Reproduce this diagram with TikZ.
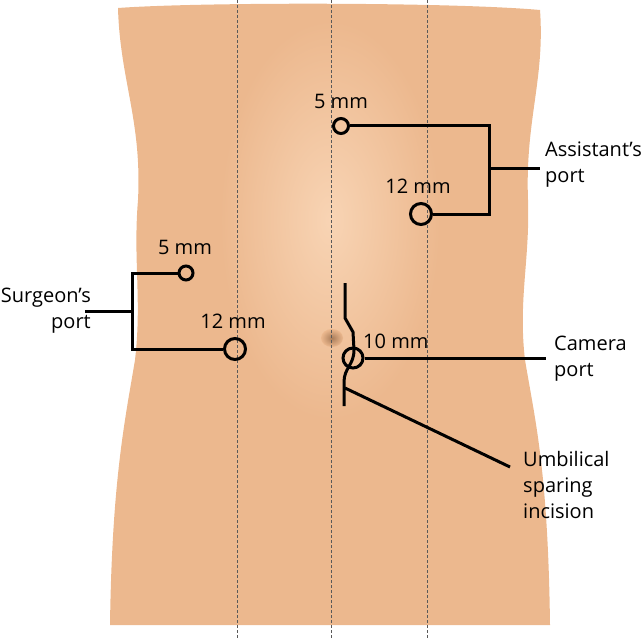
\documentclass[tikz,border=0pt]{standalone}
\usepackage{fontspec}
\setmainfont{Open Sans}
\definecolor{skin}{RGB}{236,184,142}
\definecolor{skinlight}{RGB}{248,212,180}
\definecolor{navel}{RGB}{170,125,90}
\tikzset{
  guide/.style={densely dashed, gray!70!black, line width=0.6pt},
  port/.style={circle, draw=black, line width=3pt, inner sep=0pt},
  lead/.style={line width=3pt, black},
  lbl/.style={font=\fontsize{20}{26}\selectfont, inner sep=0pt}
}
\begin{document}
\begin{tikzpicture}[x=1pt,y=-1pt]
  \useasboundingbox (0,0) rectangle (644,639);
  % torso
  \fill[skin] (118,8) .. controls (200,2) and (450,2) .. (540,10)
    .. controls (545,80) and (525,120) .. (528,200)
    .. controls (530,260) and (518,300) .. (525,360)
    .. controls (535,420) and (548,470) .. (550,625)
    -- (110,625)
    .. controls (112,480) and (125,420) .. (135,360)
    .. controls (142,300) and (133,260) .. (138,200)
    .. controls (142,120) and (120,80) .. (118,8) -- cycle;
  \shade[inner color=skinlight, outer color=skin] (330,220) ellipse (110 and 200);
  \shade[inner color=navel, outer color=skin] (332,338) ellipse (11 and 9);
  % guide lines
  \foreach \gx in {237,331,427}
    \draw[guide] (\gx,0) -- (\gx,639);
  % ports
  \node[port, minimum size=15pt] (a5) at (341,126) {};
  \node[port, minimum size=21pt] (a12) at (421,214) {};
  \node[port, minimum size=14pt] (s5) at (186,273) {};
  \node[port, minimum size=21pt] (s12) at (235,349) {};
  \node[port, minimum size=20pt] (c10) at (353,358) {};
  % labels
  \node[lbl, anchor=south] (a5t) at (a5.north) [yshift=8pt] {5 mm};
  \node[lbl, anchor=south] (a12t) at ([xshift=-3pt]a12.north) [yshift=8pt] {12 mm};
  \node[lbl, anchor=south] (s5t) at (s5.north) [yshift=10pt,xshift=-1pt] {5 mm};
  \node[lbl, anchor=south] (s12t) at (s12.north) [yshift=8pt,xshift=-2pt] {12 mm};
  \node[lbl, anchor=south west] (c10t) at (363,349) {10 mm};
  \node[lbl, align=left, anchor=west] (ast) at (545,165) {Assistant’s\\port};
  \node[lbl, align=right, anchor=east] (sur) at (91,311) {Surgeon’s\\port};
  \node[lbl, align=left, anchor=west] (cam) at (554,359) {Camera\\port};
  \node[lbl, align=left, anchor=north west] (umb) at (523,451) {Umbilical\\sparing\\incision};
  % brackets
  \coordinate (ab) at (489,168);
  \coordinate (sb) at (132,311);
  \draw[lead] (a5.east) -- (489,126) -- (489,214) -- (a12.east);
  \draw[lead] (ab) -- (540,168);
  \draw[lead] (s5.west) -- (132,273) -- (132,349) -- (s12.west);
  \draw[lead] (sb) -- (85,311);
  \draw[lead] (c10.east) -- (546,358);
  % incision
  \draw[lead, line join=round] (345,283) -- (345,318) -- (353,332) -- (354,350)
    .. controls (354,365) and (344,368) .. (344,382) -- (344,406);
  \coordinate (inc) at (345,388);
  \draw[lead] (inc) -- (510,467);
\end{tikzpicture}
\end{document}
